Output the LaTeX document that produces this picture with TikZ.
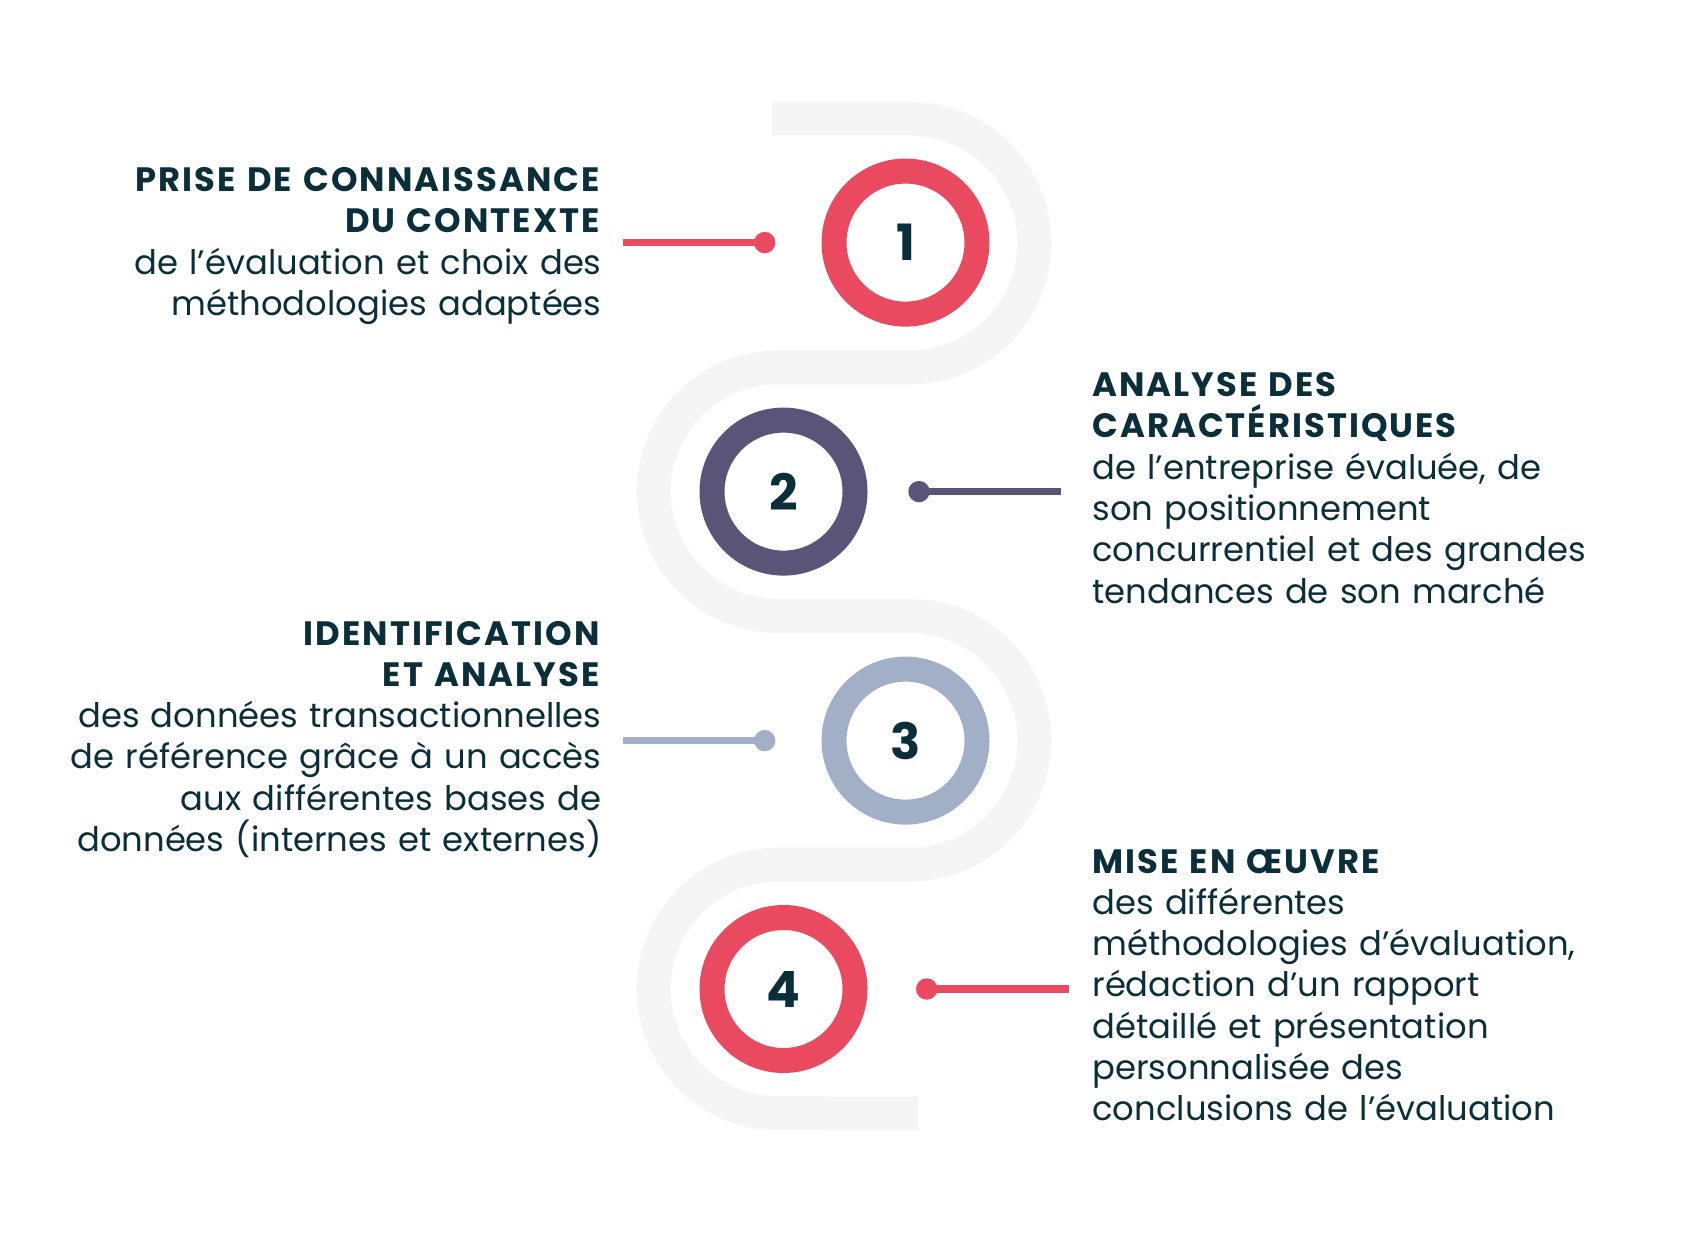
\documentclass[tikz,border=0pt]{standalone}
\usepackage{fontspec}
\setmainfont{Poppins}[BoldFeatures={LetterSpace=6}]
\definecolor{stepred}{HTML}{E94A5F}
\definecolor{stepplum}{HTML}{5A5479}
\definecolor{stepsteel}{HTML}{A1B0C7}
\definecolor{ink}{HTML}{0B2F3A}
\definecolor{trackgray}{HTML}{F5F5F5}
\tikzset{
  ring/.style={circle, draw=#1, line width=12.5pt, minimum size=71.5pt, inner sep=0pt,
    text=ink, font=\fontsize{25}{25}\selectfont\bfseries},
  pin/.style={circle, fill=#1, minimum size=10.7pt, inner sep=0pt},
  stem/.style={draw=#1, line width=3.75pt},
  lefttext/.style={anchor=base east, inner sep=0pt, text width=280pt, align=right,
    text=ink, font=\fontsize{16.9}{20.65}\selectfont},
  righttext/.style={anchor=base west, inner sep=0pt, text width=290pt, align=left,
    text=ink, font=\fontsize{16.9}{20.65}\selectfont},
}
\begin{document}
\begin{tikzpicture}[x=0.5pt,y=-0.5pt] % <- one unit = one pixel, y downwards
   \useasboundingbox (0,0) rectangle (1689,1251);
   % Winding track behind the steps
   \draw[trackgray, line width=17pt]
      (772,118.7) -- (910,118.7) arc[start angle=-90, end angle=90, radius=124.3]
      -- (778,367.3) arc[start angle=-90, end angle=-270, radius=124.3]
      -- (910,616) arc[start angle=-90, end angle=90, radius=124.3]
      -- (778,864.6) arc[start angle=-90, end angle=-270, radius=124.3]
      -- (918,1113.3);
   % Step rings
   \node[ring=stepred]   (step1) at (905.5,242.6) {1};
   \node[ring=stepplum]  (step2) at (783.5,491.6) {2};
   \node[ring=stepsteel] (step3) at (905.5,740.6) {3};
   \node[ring=stepred]   (step4) at (783.5,989)   {4};
   % Pins and stems
   \node[pin=stepred]   (pin1) at (764.7,242.6) {};
   \coordinate (end1) at (622.7,242.6);
   \draw[stem=stepred] (end1) -- (pin1.center);
   \node[pin=stepplum]  (pin2) at (919,491.6) {};
   \coordinate (end2) at (1061,491.6);
   \draw[stem=stepplum] (pin2.center) -- (end2);
   \node[pin=stepsteel] (pin3) at (764.7,740.6) {};
   \coordinate (end3) at (622.7,740.6);
   \draw[stem=stepsteel] (end3) -- (pin3.center);
   \node[pin=stepred]   (pin4) at (926.7,989) {};
   \coordinate (end4) at (1069,989);
   \draw[stem=stepred] (pin4.center) -- (end4);
   % Texts
   \node[lefttext] (text1) at (602,191.5) {\textbf{PRISE DE CONNAISSANCE}\\
      \textbf{DU CONTEXTE}\\ de l’évaluation et choix des\\ méthodologies adaptées};
   \node[righttext] (text2) at (1092,396.5) {\textbf{ANALYSE DES}\\
      \textbf{CARACTÉRISTIQUES}\\ de l’entreprise évaluée, de\\ son positionnement\\
      concurrentiel et des grandes\\ tendances de son marché};
   \node[lefttext] (text3) at (602,645) {\textbf{IDENTIFICATION}\\
      \textbf{ET ANALYSE}\\ des données transactionnelles\\ de référence grâce à un accès\\
      aux différentes bases de\\ données (internes et externes)};
   \node[righttext] (text4) at (1092,873) {\textbf{MISE EN ŒUVRE}\\
      des différentes\\ méthodologies d’évaluation,\\ rédaction d’un rapport\\
      détaillé et présentation\\ personnalisée des\\ conclusions de l’évaluation};
\end{tikzpicture}
\end{document}
